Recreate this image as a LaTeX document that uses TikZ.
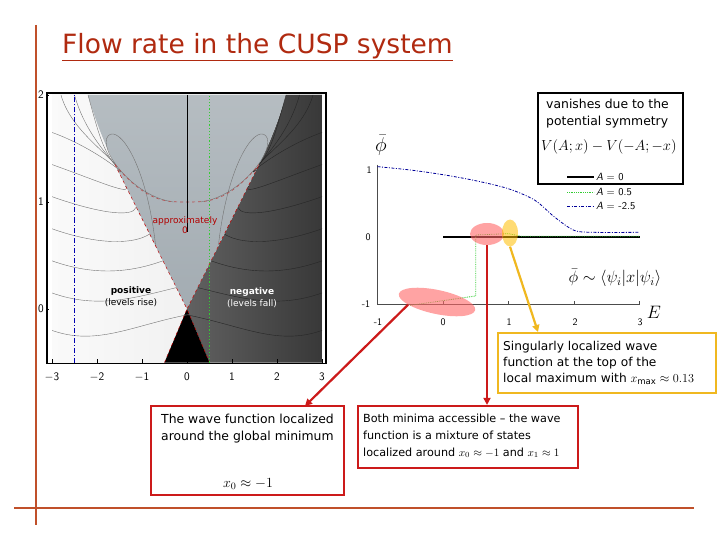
\RequirePackage{fix-cm}
\documentclass[tikz,border=0pt]{standalone}
\usepackage{fontspec}
\setmainfont{DejaVu Sans}
\usetikzlibrary{shapes.geometric,arrows.meta}
\definecolor{frameor}{HTML}{C0502A}
\definecolor{boxred}{HTML}{CC1A1A}
\definecolor{boxyel}{HTML}{F0B820}
\definecolor{titlered}{HTML}{B02A10}
\definecolor{conegray}{HTML}{A3ACB2}
\definecolor{lgreen}{HTML}{33CC33}
\tikzset{
  txt/.style={font=\fontsize{12.4}{16.8}\selectfont, align=left, inner sep=0pt},
  tick/.style={font=\fontsize{11.5}{12}\selectfont\sffamily, inner sep=0pt},
  small/.style={font=\fontsize{9}{10.5}\selectfont, inner sep=0pt},
  redbox/.style={draw=boxred, line width=2.2pt, inner sep=3pt},
  contour/.style={draw=black!55, line width=0.4pt},
  redarr/.style={draw=boxred, line width=2.2pt, -{Triangle[length=7pt,width=7pt]}},
}
\begin{document}
\begin{tikzpicture}[x=1pt,y=-1pt]
\useasboundingbox (0,0) rectangle (720,540);
\fill[white] (0,0) rectangle (720,540);
% frame lines
\draw[frameor, line width=2pt] (36,25) -- (36,525);
\draw[frameor, line width=2pt] (14,508) -- (694,508);
% title
\node[font=\fontsize{26.5}{30}\selectfont, text=titlered, inner sep=0pt, anchor=west] (title) at (62,47) {\underline{Flow rate in the CUSP system}};

% ---------------- left plot ----------------
\begin{scope}[shift={(187,309)}, x=45pt, y=107pt]
 \begin{scope}
 \clip (-3,-0.5) rectangle (3,2);
 \shade[left color=gray!4, right color=gray!18] (-3,-0.5) rectangle (3,2);
 \shade[left color=black!62, right color=black!78]
   (0,0) -- (1.6,1.35) .. controls (1.9,1.6) and (2.1,1.85) .. (2.2,2) -- (3,2) -- (3,-0.5) -- (0.5,-0.5) -- cycle;
 \shade[top color=conegray!80, bottom color=conegray]
   (0,0) -- (-1.6,1.35) .. controls (-1.9,1.6) and (-2.1,1.85) .. (-2.2,2) -- (2.2,2) .. controls (2.1,1.85) and (1.9,1.6) .. (1.6,1.35) -- cycle;
 \fill[black] (0,0) -- (-0.5,-0.5) -- (0.5,-0.5) -- cycle;
 % contours
 \foreach \a/\b in {-0.2/-0.05, 0.15/0.2, 0.45/0.45, 0.75/0.7, 1.05/0.95, 1.35/1.15, 1.65/1.3}{
   \draw[contour] (-3,\a) .. controls (-2,\a-0.15) and (-1.2,\b-0.1) .. (-1.19*\b,\b);
   \draw[draw=black!85, line width=0.4pt] (3,\a) .. controls (2,\a-0.15) and (1.2,\b-0.1) .. (1.19*\b,\b);
 }
 \foreach \s in {-2.8,-2.5,-2.2}{
   \draw[contour] (\s,2) .. controls (\s+0.2,1.7) and (-1.9,1.5) .. (-1.6,1.35);
   \draw[draw=black!85, line width=0.4pt] (-\s,2) .. controls (-\s-0.2,1.7) and (1.9,1.5) .. (1.6,1.35);
 }
 % loops
 \draw[contour] (-0.3,1.0) .. controls (-1.2,1.05) and (-2.0,1.5) .. (-1.75,1.62) .. controls (-1.5,1.72) and (-0.9,1.35) .. (-0.7,0.6);
 \draw[contour] (0.3,1.0) .. controls (1.2,1.05) and (2.0,1.5) .. (1.75,1.62) .. controls (1.5,1.72) and (0.9,1.35) .. (0.7,0.6);
 % red dashed cusp
 \draw[red!75!black, dashed, line width=0.5pt] (-1.6,1.35) -- (0,0) -- (1.6,1.35);
 \draw[red!75!black, dashed, line width=0.5pt] (-0.5,-0.5) -- (0,0) -- (0.5,-0.5);
 \draw[red!60!black!70, dashed, line width=0.6pt] (-1.6,1.35) .. controls (-0.9,1.0) and (-0.5,1.0) .. (0,1.0) .. controls (0.5,1.0) and (0.9,1.0) .. (1.6,1.35);
 % vertical lines
 \draw[blue!70!black, line width=1.3pt, dash pattern=on 5pt off 2pt on 1pt off 2pt] (-2.5,-0.5) -- (-2.5,2);
 \draw[black, line width=0.7pt] (0,0.72) -- (0,2);
 \draw[lgreen, line width=1.2pt, dotted] (0.5,-0.5) -- (0.5,2);
 \end{scope}
 \draw[black, line width=1.4pt] (-3.11,-0.51) rectangle (3.09,2.02);
 \foreach \x in {-3,-2,-1,0,1,2,3} \draw[line width=0.4pt] (\x,-0.51) -- (\x,-0.47);
 \foreach \y in {0,1,2} \draw[line width=0.4pt] (-3.11,\y) -- (-3.06,\y);
\end{scope}
\foreach \v/\px in {-3/52,-2/97,-1/142,0/187,1/232,2/277,3/322}
  \node[tick] (xl\px) at (\px,377) {\ifnum\v<0 $-$\the\numexpr-\v\relax\else\v\fi};
\node[tick] (yl2) at (41,95) {2};
\node[tick] (yl1) at (41,202) {1};
\node[tick] (yl0) at (41,309) {0};
\node[small, text=red!70!black, align=center] (approx) at (185,225) {approximately\\0};
\node[small, font=\fontsize{9}{10.5}\selectfont\bfseries] (pos) at (131,291) {positive};
\node[small] (posl) at (131,303) {(levels rise)};
\node[small, font=\fontsize{9}{10.5}\selectfont\bfseries, text=white] (neg) at (252,292) {negative};
\node[small, text=white] (negl) at (252,304) {(levels fall)};

% ---------------- right plot ----------------
\begin{scope}[shift={(443,237)}, x=65.5pt, y=67pt]
 \draw[black!70, line width=0.5pt] (-1,1.08) -- (-1,-1) -- (3,-1);
 \foreach \x in {0,1,2,3} \draw[black!70, line width=0.4pt] (\x,-1) -- (\x,-0.96);
 \draw[blue!60!black, line width=0.8pt, dash pattern=on 3pt off 1.5pt on 1pt off 1.5pt]
   plot[smooth] coordinates {(-1,1.05) (-0.5,1.0) (0,0.93) (0.5,0.84) (1,0.72) (1.4,0.55) (1.7,0.3) (2,0.1) (2.3,0.07) (3,0.07)};
 \draw[black, line width=1.2pt] (0,0) -- (3,0);
 \draw[lgreen, line width=0.8pt, densely dotted]
   (-0.5,-1.02) -- (0.5,-0.88) -- (0.5,0.03) -- (1,0.05) -- (1.2,0.01) -- (3,0.01);
\end{scope}
\node[tick, font=\fontsize{10}{11}\selectfont\sffamily] (ry1) at (369,170) {1};
\node[tick, font=\fontsize{10}{11}\selectfont\sffamily] (ry0) at (368,237) {0};
\node[tick, font=\fontsize{10}{11}\selectfont\sffamily] (rym) at (366,304) {-1};
\foreach \v/\px in {-1/378,0/443,1/509,2/575,3/640}
  \node[tick, font=\fontsize{10}{11}\selectfont\sffamily] (rx\px) at (\px,322) {\v};
\node[font=\fontsize{20}{22}\selectfont, inner sep=0pt] (phi) at (381,145) {$\bar\phi$};
\node[font=\fontsize{18}{20}\selectfont, inner sep=0pt] (E) at (654,312) {$E$};
\node[font=\fontsize{16.5}{20}\selectfont, inner sep=0pt] (rel) at (615,278) {$\bar\phi\sim\langle\psi_i|x|\psi_i\rangle$};

% legend box
\node[draw=black, line width=2.2pt, minimum width=145pt, minimum height=91pt, inner sep=0pt] (legend) at (610.5,138.5) {};
\node[txt, anchor=north west] (leg1) at (546,99) {vanishes due to the\\potential symmetry};
\node[font=\fontsize{14.5}{16}\selectfont, inner sep=0pt, anchor=west] (sym) at (541,147) {$V(A;x)-V(-A;-x)$};
\draw[black, line width=1.2pt] (567,177) -- (594,177);
\node[font=\fontsize{10.5}{12}\selectfont\sffamily, anchor=west, inner sep=0pt] (la0) at (596,177) {\textit{A} = 0};
\draw[lgreen, line width=0.8pt, densely dotted] (567,192) -- (594,192);
\node[font=\fontsize{10.5}{12}\selectfont\sffamily, anchor=west, inner sep=0pt] (la1) at (596,192) {\textit{A} = 0.5};
\draw[blue!60!black, line width=0.8pt, dash pattern=on 3pt off 1.5pt on 1pt off 1.5pt] (567,206) -- (594,206);
\node[font=\fontsize{10.5}{12}\selectfont\sffamily, anchor=west, inner sep=0pt] (la2) at (596,206) {\textit{A} = -2.5};

% ellipses
\node[ellipse, fill=red!60, fill opacity=0.6, minimum width=78pt, minimum height=24pt, rotate=-12, inner sep=0pt] (e1) at (437,302) {};
\node[ellipse, fill=red!60, fill opacity=0.6, minimum width=34pt, minimum height=22pt, inner sep=0pt] (e2) at (487,234) {};
\node[ellipse, fill=orange!50!yellow, fill opacity=0.55, minimum width=16pt, minimum height=27pt, inner sep=0pt] (e3) at (510,233) {};

% boxes
\node[draw=boxyel, line width=2.2pt, minimum width=218pt, minimum height=60pt, inner sep=0pt] (ybox) at (607,363) {};
\node[txt, font=\fontsize{12.2}{16}\selectfont, anchor=north west] (ytext) at (503,341) {Singularly localized wave\\function at the top of the\\local maximum with $x_{\max}\approx 0.13$};
\node[redbox, minimum width=193pt, minimum height=89pt, inner sep=0pt] (b1) at (247.5,450.5) {};
\node[txt, anchor=north west] (b1t) at (161,414) {The wave function localized\\around the global minimum};
\node[font=\fontsize{14}{16}\selectfont, inner sep=0pt] (b1m) at (248,484) {$x_0\approx -1$};
\node[redbox, minimum width=220pt, minimum height=62pt, inner sep=0pt] (b2) at (468,437) {};
\node[txt, font=\fontsize{11.2}{16.8}\selectfont, anchor=north west] (b2t) at (363,414) {Both minima accessible -- the wave\\function is a mixture of states\\localized around $x_0\approx-1$ and $x_1\approx 1$};

% arrows
\coordinate (a1end) at (305,406);
\draw[redarr] (e1.south west) -- (a1end);
\draw[redarr] (e2.south) -- (e2.south |- b2.north);
\coordinate (a3end) at (538,332);
\draw[draw=boxyel, line width=2.2pt, -{Triangle[length=7pt,width=7pt]}] (e3.south) -- (a3end);
\end{tikzpicture}
\end{document}
